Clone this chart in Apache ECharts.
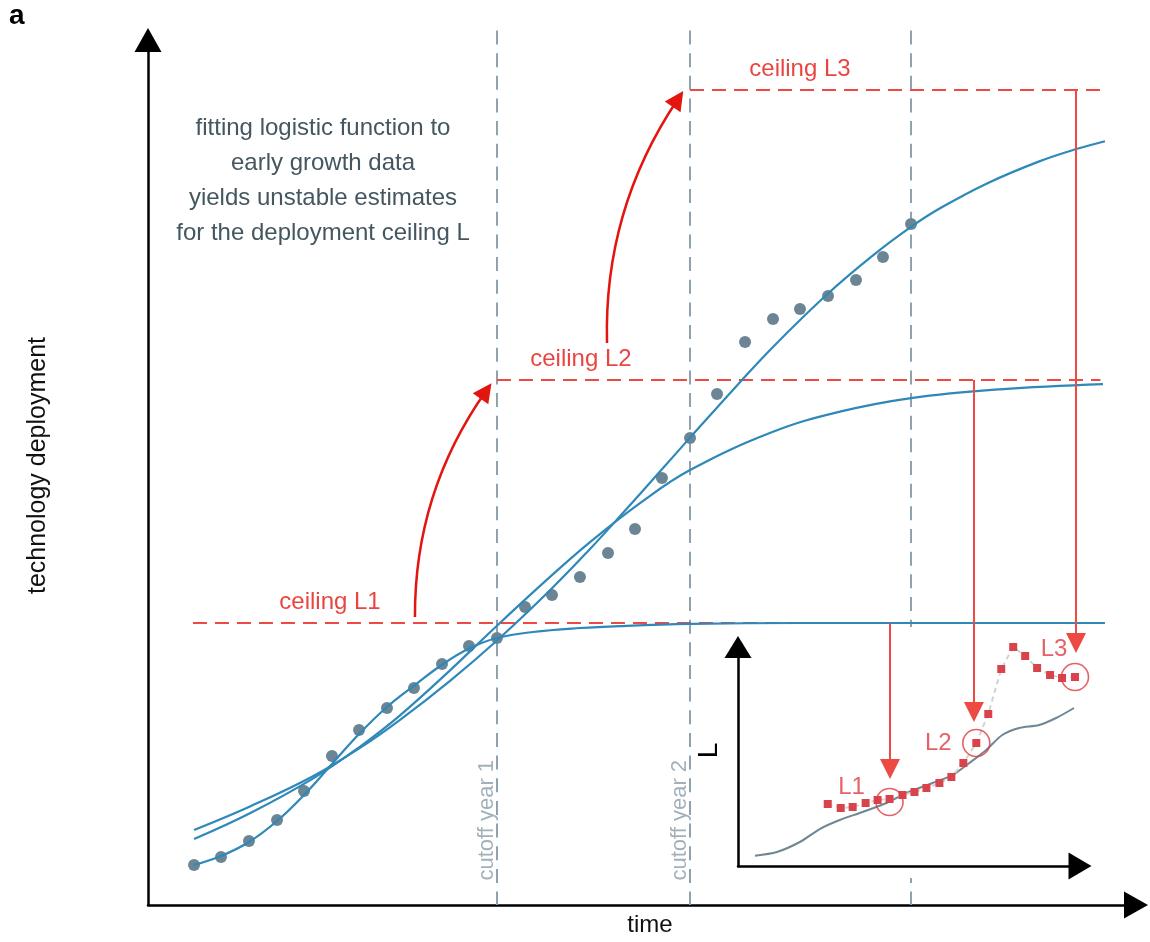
<!DOCTYPE html>
<html><head><meta charset="utf-8">
<script src="https://cdn.jsdelivr.net/npm/echarts@6/dist/echarts.min.js"></script>
<style>html,body{margin:0;padding:0;background:#fff}#c{width:1150px;height:942px}</style>
</head><body><div id="c"></div>
<script>
const FONT = '"Liberation Sans", Arial, Helvetica, sans-serif';

// ---------- main panel (arbitrary units, 0-100) ----------
const dotTime = [4.66,7.39,10.22,13.06,15.79,18.62,21.36,24.19,26.92,29.76,32.49,35.32,38.16,40.89,43.72,46.56,49.29,52.02,54.86,57.59,60.43,63.26,65.99,68.83,71.66,74.39,77.23];
const dotDeployment = [4.62,5.55,7.40,9.83,13.18,17.23,20.23,22.77,25.09,27.86,29.94,30.87,34.45,35.84,37.92,40.69,43.47,49.36,53.99,59.08,65.09,67.75,68.90,70.40,72.25,74.91,78.73];

const fitL1 = [[4.66,4.62],[7.39,5.66],[10.22,7.28],[13.06,9.71],[15.79,12.72],[18.62,16.30],[21.36,19.77],[24.19,22.89],[27.02,25.43],[29.86,27.86],[32.59,29.71],[35.32,30.87],[38.97,31.56],[43.72,32.02],[47.77,32.25],[54.86,32.49],[65.99,32.60],[96.86,32.60]];
const fitL2 = [[4.66,7.63],[10.32,10.61],[16.60,14.55],[21.46,18.32],[25.51,21.93],[30.57,27.13],[35.32,32.29],[40.69,37.93],[44.74,41.95],[49.80,46.46],[54.86,50.28],[63.26,54.71],[70.04,57.03],[77.23,58.60],[86.23,59.62],[96.66,60.22]];
const fitL3 = [[4.66,8.67],[10.32,11.39],[16.60,14.83],[21.46,18.16],[25.51,21.40],[30.57,25.91],[35.32,30.58],[40.69,36.39],[44.74,41.16],[47.77,44.94],[52.13,50.51],[54.86,54.03],[59.62,60.07],[63.26,64.52],[68.72,70.58],[73.38,75.10],[77.23,78.39],[80.16,80.54],[84.92,83.42],[90.28,86.00],[94.23,87.49],[96.86,88.30]];

const cutoffTimes = [35.32, 54.86, 77.23];
const cutoffLabels = ['cutoff year 1', 'cutoff year 2'];
const cutoffLabelHeight = 9.8;

const ceilingNames = ['ceiling L1', 'ceiling L2', 'ceiling L3'];
const ceilingLevels = [32.60, 60.69, 94.22];
const ceilingFrom = [4.55, 35.32, 54.86];
const ceilingTo = [96.66, 96.40, 96.40];
const ceilingLabelTime = [18.42, 43.82, 65.99];

const dropTime = [75.10, 83.60, 93.93];
const dropEnd = [15.72, 22.31, 30.29];

const jumpFrom = [[27.02, 33.29], [46.46, 64.97]];
const jumpTo = [[34.21, 59.42], [53.64, 93.18]];

// ---------- inset: estimated ceiling L over time ----------
const insetTime = [26.24,30.03,33.53,37.32,40.82,44.31,48.10,51.60,55.10,58.89,62.39,65.89,69.68,73.18,76.97,80.47,83.97,87.46,91.25,94.75,98.54];
const insetL = [28.31,26.48,26.94,28.77,30.14,30.59,32.42,33.79,35.62,37.90,40.64,47.03,56.16,69.41,89.95,100.0,95.89,90.41,87.21,85.84,86.30];
const trendTime = [4.96,11.37,18.08,23.91,29.74,36.44,43.44,49.27,56.85,62.68,67.64,72.59,77.26,82.22,88.05,93.00,98.25];
const trendL = [4.70,6.39,10.96,16.89,21.00,24.66,28.77,33.33,37.90,41.55,47.03,52.97,59.82,63.01,64.38,67.58,72.15];
const pickedTime = [44.31, 69.68, 98.54];
const pickedL = [29.22, 56.16, 86.30];
const pickedNames = ['L1', 'L2', 'L3'];

const RED = '#ec4a43', RED2 = '#e3150f', BLUE = '#2e88b8', SLATE = '#6c8594', GRAYD = '#8fa2ae';

const chart = echarts.init(document.getElementById('c'), null, {renderer: 'canvas'});

const axisCommon = (extra) => Object.assign({
  type: 'value', min: 0, max: 100,
  axisTick: {show: false}, axisLabel: {show: false}, splitLine: {show: false},
  nameTextStyle: {color: '#111', fontSize: 24, fontFamily: FONT}
}, extra);

const labelOffsets = [[-38, -15], [-38, 0], [-21, -28]];

const option = {
  animation: false,
  backgroundColor: '#fff',
  grid: [
    {left: 148, right: 14, top: 40, bottom: 37},
    {left: 738, top: 647, width: 342, height: 219}
  ],
  xAxis: [
    axisCommon({gridIndex: 0, name: 'time', nameLocation: 'middle', nameGap: 8,
      nameTextStyle: {color: '#111', fontSize: 24, fontFamily: FONT, padding: [0, 0, 0, 16]},
      axisLine: {show: true, symbol: ['none', 'triangle'], symbolSize: [27, 24], lineStyle: {color: '#000', width: 2.5}}}),
    axisCommon({gridIndex: 1, z: 6,
      axisLine: {show: true, symbol: ['none', 'triangle'], symbolSize: [27, 23], lineStyle: {color: '#000', width: 2.5}}})
  ],
  yAxis: [
    axisCommon({gridIndex: 0, name: 'technology deployment', nameLocation: 'middle', nameGap: 97,
      nameTextStyle: {color: '#111', fontSize: 25, fontFamily: FONT, padding: [0, 0, 0, 14]},
      axisLine: {show: true, symbol: ['none', 'triangle'], symbolSize: [27, 24], lineStyle: {color: '#000', width: 2.5}}}),
    axisCommon({gridIndex: 1, z: 6, name: 'L', nameLocation: 'middle', nameGap: 15,
      nameTextStyle: {color: '#000', fontSize: 28, fontFamily: FONT, padding: [0, 0, 0, 12]},
      axisLine: {show: true, symbol: ['none', 'triangle'], symbolSize: [27, 22], lineStyle: {color: '#000', width: 2.5}}})
  ],
  graphic: [
    {type: 'text', x: 9, y: 16, z: 10, silent: true,
      style: {text: 'a', font: 'bold 28px ' + FONT, fill: '#000', verticalAlign: 'middle'}},
    {type: 'text', x: 323, y: 111, z: 10, silent: true,
      style: {text: 'fitting logistic function to\nearly growth data\nyields unstable estimates\nfor the deployment ceiling L',
        font: '24px ' + FONT, fill: '#44565f', align: 'center', verticalAlign: 'top', lineHeight: 35}},
    {type: 'rect', z: 3, silent: true, shape: {x: 722, y: 627, width: 380, height: 251}, style: {fill: '#fff'}}
  ],
  series: [
    // cutoff verticals (dash pattern chosen so both ends finish on a dash)
    {type: 'lines', coordinateSystem: 'cartesian2d', xAxisIndex: 0, yAxisIndex: 0, z: 2, silent: true, clip: false,
      lineStyle: {color: GRAYD, width: 2, type: [14, 8.66], opacity: 1},
      data: cutoffTimes.map(t => ({coords: [[t, 101.1], [t, 0]]}))},
    // cutoff labels
    {type: 'scatter', xAxisIndex: 0, yAxisIndex: 0, z: 5, symbolSize: 0, silent: true,
      data: cutoffLabels.map((s, i) => ({value: [cutoffTimes[i] - 1.0, cutoffLabelHeight], name: s})),
      label: {show: true, position: 'inside', rotate: 90, formatter: p => p.name, color: '#8a9eab', fontSize: 22, fontFamily: FONT}},
    // dots
    {type: 'scatter', xAxisIndex: 0, yAxisIndex: 0, z: 5, symbolSize: 12, silent: true,
      itemStyle: {color: SLATE, opacity: 1},
      data: dotTime.map((t, i) => [t, dotDeployment[i]])},
    // ceiling dashed lines
    {type: 'lines', coordinateSystem: 'cartesian2d', xAxisIndex: 0, yAxisIndex: 0, z: 5, silent: true, clip: false,
      lineStyle: {color: RED, width: 2, type: [14, 8], opacity: 1},
      data: ceilingLevels.map((l, i) => ({coords: [[ceilingFrom[i], l], [ceilingTo[i], l]]}))},
    // logistic fits
    ...[fitL1, fitL2, fitL3].map(d => ({type: 'line', xAxisIndex: 0, yAxisIndex: 0, z: 6, silent: true,
      data: d, smooth: 0.4, showSymbol: false, symbol: 'none',
      lineStyle: {color: BLUE, width: 2.2}})),
    // ceiling labels
    {type: 'scatter', xAxisIndex: 0, yAxisIndex: 0, z: 7, symbolSize: 0, silent: true,
      data: ceilingNames.map((n, i) => ({value: [ceilingLabelTime[i], ceilingLevels[i]], name: n})),
      label: {show: true, position: 'inside', offset: [0, -21], formatter: p => p.name, color: RED2, fontSize: 24, fontFamily: FONT}},
    // drop arrows from ceilings to inset
    {type: 'lines', coordinateSystem: 'cartesian2d', xAxisIndex: 0, yAxisIndex: 0, z: 8, silent: true, clip: false,
      symbol: ['none', 'triangle'], symbolSize: 20,
      lineStyle: {color: RED, width: 2, opacity: 1},
      data: dropTime.map((t, i) => ({coords: [[t, ceilingLevels[i]], [t, dropEnd[i]]]}))},
    // curved jump arrows
    {type: 'lines', coordinateSystem: 'cartesian2d', xAxisIndex: 0, yAxisIndex: 0, z: 8, silent: true, clip: false,
      symbol: ['none', 'triangle'], symbolSize: 19,
      lineStyle: {color: RED2, width: 2.5, opacity: 1, curveness: 0.16},
      data: jumpFrom.map((f, i) => ({coords: [f, jumpTo[i]]}))},
    // inset trend
    {type: 'line', xAxisIndex: 1, yAxisIndex: 1, z: 6, silent: true, smooth: 0.3, showSymbol: false, symbol: 'none',
      lineStyle: {color: '#6f8795', width: 2},
      data: trendTime.map((t, i) => [t, trendL[i]])},
    // inset estimates
    {type: 'line', xAxisIndex: 1, yAxisIndex: 1, z: 7, silent: true, symbol: 'rect', symbolSize: 8, showSymbol: true,
      itemStyle: {color: '#d9434b'},
      lineStyle: {color: '#d2d2d2', width: 2, type: [5, 4]},
      data: insetTime.map((t, i) => [t, insetL[i]])},
    // picked estimates (circles)
    {type: 'scatter', xAxisIndex: 1, yAxisIndex: 1, z: 8, silent: true, symbol: 'circle', symbolSize: 27,
      itemStyle: {color: 'rgba(0,0,0,0)', borderColor: '#e0393e', borderWidth: 1.6},
      data: pickedTime.map((t, i) => ({value: [t, pickedL[i]], name: pickedNames[i],
        label: {offset: labelOffsets[i]}})),
      label: {show: true, position: 'inside', formatter: p => p.name, color: '#e0393e', fontSize: 24, fontFamily: FONT}}
  ]
};
chart.setOption(option);
</script>
</body></html>
